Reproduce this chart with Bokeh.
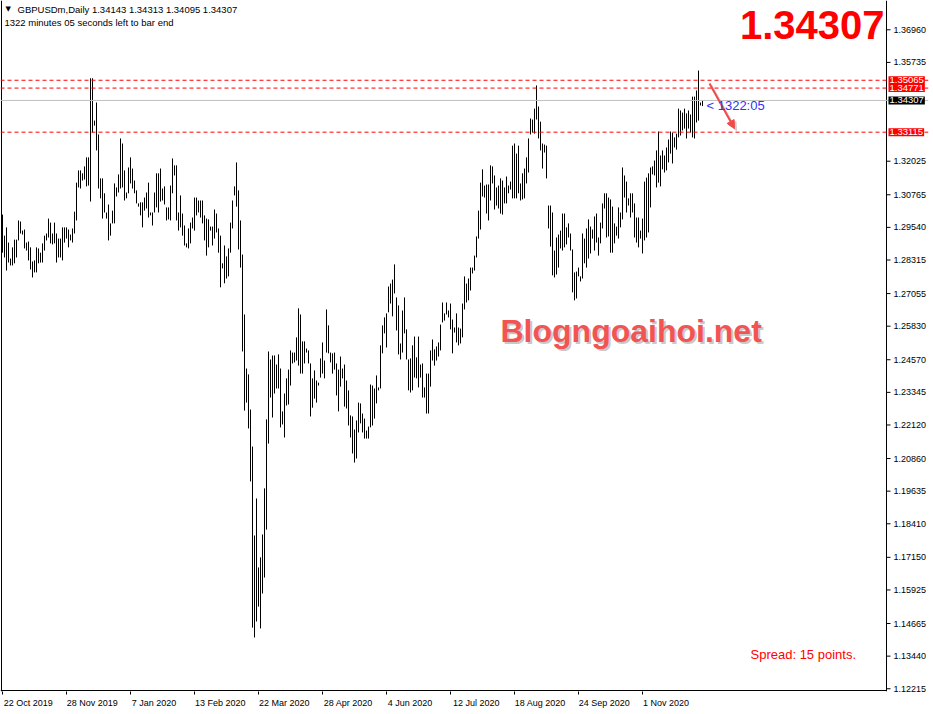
from bokeh.plotting import figure
from bokeh.models import (FixedTicker, Span, Label, Arrow, NormalHead, ColumnDataSource,
                          Range1d, NumeralTickFormatter, LinearAxis)
from bokeh.embed import file_html
from bokeh.resources import INLINE

# ---------------- data ----------------
highs = [
 1.3002,1.2923,1.2954,1.2897,1.2837,1.2879,1.2908,1.2908,1.2980,1.2976,
 1.2942,1.2946,1.2897,1.2901,1.2879,1.2826,1.2830,1.2879,1.2875,1.2859,
 1.2894,1.2923,1.2931,1.2987,1.2972,1.2931,1.2972,1.2931,1.2912,1.2912,
 1.2954,1.2954,1.2954,1.2946,1.2927,1.2950,1.3013,1.3122,1.3168,1.3168,
 1.3157,1.3183,1.3217,1.3217,1.3514,1.3514,1.3355,1.3423,1.3303,1.3138,
 1.3138,1.3082,1.3010,1.3040,1.2969,1.3017,1.3119,1.3104,1.3153,1.3288,
 1.3269,1.3168,1.3085,1.3179,1.3217,1.3175,1.3130,1.3093,1.3044,1.3048,
 1.3048,1.3066,1.3085,1.3122,1.3010,1.3010,1.3085,1.3157,1.3157,1.3175,
 1.3100,1.3108,1.3029,1.3029,1.3111,1.3213,1.3187,1.3187,1.3010,1.3074,
 1.3006,1.2961,1.2894,1.2950,1.2972,1.2991,1.3066,1.3066,1.3055,1.3055,
 1.3055,1.2999,1.2987,1.2984,1.2957,1.2957,1.3021,1.3006,1.2950,1.2923,
 1.2819,1.2886,1.2845,1.2875,1.2972,1.3055,1.3108,1.3198,1.3093,1.2980,
 1.2852,1.2627,1.2424,1.2402,1.2270,1.2131,1.1797,1.1936,1.1677,1.1715,
 1.1801,1.1974,1.2233,1.2488,1.2458,1.2473,1.2473,1.2439,1.2477,1.2424,
 1.2263,1.2330,1.2387,1.2420,1.2492,1.2484,1.2484,1.2541,1.2650,1.2627,
 1.2526,1.2526,1.2499,1.2492,1.2443,1.2387,1.2417,1.2379,1.2371,1.2462,
 1.2522,1.2454,1.2646,1.2586,1.2484,1.2481,1.2484,1.2443,1.2420,1.2469,
 1.2424,1.2439,1.2379,1.2342,1.2248,1.2244,1.2195,1.2229,1.2296,1.2293,
 1.2255,1.2236,1.2191,1.2206,1.2364,1.2360,1.2349,1.2398,1.2353,1.2511,
 1.2586,1.2616,1.2631,1.2732,1.2743,1.2758,1.2815,1.2691,1.2661,1.2518,
 1.2642,1.2691,1.2571,1.2458,1.2462,1.2511,1.2544,1.2466,1.2544,1.2439,
 1.2443,1.2353,1.2405,1.2405,1.2492,1.2533,1.2496,1.2507,1.2522,1.2589,
 1.2672,1.2631,1.2672,1.2642,1.2668,1.2608,1.2578,1.2631,1.2578,1.2574,
 1.2668,1.2770,1.2743,1.2762,1.2803,1.2803,1.2848,1.2920,1.3017,1.3122,
 1.3172,1.3111,1.3115,1.3115,1.3187,1.3183,1.3149,1.3104,1.3111,1.3138,
 1.3130,1.3104,1.3145,1.3111,1.3126,1.3261,1.3269,1.3231,1.3261,1.3119,
 1.3157,1.3175,1.3217,1.3288,1.3363,1.3359,1.3400,1.3487,1.3408,1.3351,
 1.3269,1.3265,1.3261,1.3036,1.3036,1.3010,1.2867,1.2916,1.2927,1.2942,
 1.3006,1.3006,1.2954,1.2969,1.2931,1.2871,1.2785,1.2788,1.2803,1.2770,
 1.2931,1.2912,1.2950,1.2984,1.2957,1.2946,1.2995,1.3006,1.2916,1.2972,
 1.3044,1.3082,1.3082,1.3066,1.3059,1.3032,1.2969,1.2957,1.3029,1.3010,
 1.3179,1.3149,1.3126,1.3063,1.3082,1.3082,1.3044,1.2991,1.2991,1.2942,
 1.2987,1.3126,1.3141,1.3157,1.3179,1.3183,1.3205,1.3243,1.3314,1.3224,
 1.3243,1.3224,1.3254,1.3284,1.3314,1.3310,1.3292,1.3306,1.3400,1.3393,
 1.3385,1.3400,1.3382,1.3393,1.3378,1.3445,1.3445,1.3468,1.3543,1.3423,
 1.34313,
]
lows = [
 1.2859,1.2841,1.2792,1.2822,1.2811,1.2811,1.2819,1.2841,1.2905,1.2931,
 1.2927,1.2875,1.2867,1.2830,1.2796,1.2766,1.2785,1.2785,1.2819,1.2822,
 1.2822,1.2867,1.2905,1.2916,1.2894,1.2890,1.2894,1.2822,1.2841,1.2841,
 1.2830,1.2897,1.2912,1.2879,1.2905,1.2897,1.2931,1.2980,1.3104,1.3100,
 1.3130,1.3134,1.3108,1.3111,1.3051,1.3310,1.3336,1.3243,1.3100,1.3063,
 1.2987,1.3010,1.2987,1.2905,1.2923,1.2969,1.2969,1.3070,1.3085,1.3100,
 1.3104,1.3055,1.3063,1.3082,1.3119,1.3100,1.3082,1.3044,1.3032,1.2999,
 1.2954,1.3017,1.3025,1.2991,1.2999,1.2961,1.3010,1.3029,1.3010,1.3051,
 1.3055,1.3040,1.2980,1.2984,1.2980,1.3082,1.3149,1.2980,1.2942,1.2954,
 1.2923,1.2886,1.2879,1.2875,1.2894,1.2950,1.2942,1.2999,1.3010,1.2991,
 1.2969,1.2905,1.2848,1.2879,1.2942,1.2886,1.2912,1.2935,1.2859,1.2729,
 1.2800,1.2744,1.2762,1.2770,1.2859,1.2950,1.3074,1.3032,1.2871,1.2803,
 1.2488,1.2266,1.2296,1.2199,1.2000,1.1451,1.1414,1.1474,1.1530,1.1448,
 1.1579,1.1639,1.1819,1.2142,1.2315,1.2240,1.2330,1.2349,1.2349,1.2203,
 1.2214,1.2165,1.2285,1.2289,1.2360,1.2443,1.2447,1.2454,1.2435,1.2405,
 1.2405,1.2443,1.2484,1.2443,1.2244,1.2277,1.2311,1.2296,1.2360,1.2390,
 1.2405,1.2387,1.2484,1.2481,1.2447,1.2405,1.2420,1.2323,1.2263,1.2356,
 1.2387,1.2281,1.2274,1.2210,1.2165,1.2105,1.2071,1.2086,1.2184,1.2218,
 1.2184,1.2161,1.2161,1.2161,1.2203,1.2210,1.2236,1.2293,1.2342,1.2349,
 1.2481,1.2556,1.2503,1.2635,1.2668,1.2620,1.2706,1.2567,1.2477,1.2458,
 1.2484,1.2556,1.2458,1.2342,1.2334,1.2342,1.2390,1.2387,1.2353,1.2390,
 1.2315,1.2315,1.2255,1.2255,1.2356,1.2454,1.2435,1.2454,1.2469,1.2492,
 1.2597,1.2604,1.2627,1.2616,1.2571,1.2481,1.2559,1.2522,1.2511,1.2518,
 1.2541,1.2646,1.2672,1.2680,1.2717,1.2781,1.2792,1.2841,1.2912,1.2946,
 1.3070,1.3066,1.3006,1.2980,1.3055,1.3119,1.3021,1.3036,1.3025,1.3006,
 1.3002,1.3044,1.3044,1.3082,1.3096,1.3063,1.3063,1.3063,1.3082,1.3055,
 1.3059,1.3063,1.3119,1.3160,1.3303,1.3310,1.3306,1.3359,1.3288,1.3243,
 1.3175,1.3235,1.3138,1.2950,1.2882,1.2774,1.2766,1.2777,1.2803,1.2875,
 1.2867,1.2879,1.2890,1.2916,1.2867,1.2710,1.2680,1.2687,1.2770,1.2751,
 1.2762,1.2819,1.2803,1.2837,1.2856,1.2912,1.2867,1.2897,1.2848,1.2894,
 1.2950,1.3025,1.2916,1.2920,1.2859,1.2859,1.2894,1.2923,1.2912,1.2954,
 1.2984,1.3066,1.3010,1.3036,1.2991,1.3010,1.2916,1.2897,1.2879,1.2912,
 1.2856,1.2905,1.2916,1.2935,1.3029,1.3153,1.3149,1.3104,1.3122,1.3108,
 1.3172,1.3160,1.3168,1.3198,1.3231,1.3194,1.3254,1.3246,1.3292,1.3299,
 1.3318,1.3325,1.3288,1.3325,1.3310,1.3292,1.3288,1.3348,1.3355,1.3412,
 1.34095,
]
tick_index = [0, 32, 64, 96, 128, 160, 192, 224, 256, 288, 320]
tick_labels = ["22 Oct 2019", "28 Nov 2019", "7 Jan 2020", "13 Feb 2020", "22 Mar 2020",
               "28 Apr 2020", "4 Jun 2020", "12 Jul 2020", "18 Aug 2020", "24 Sep 2020",
               "1 Nov 2020"]
price_ticks = [1.36960, 1.35735, 1.32025, 1.30765, 1.29540, 1.28315, 1.27055, 1.25830,
               1.24570, 1.23345, 1.22120, 1.20860, 1.19635, 1.18410, 1.17150, 1.15925,
               1.14665, 1.13440, 1.12215]
red_levels = [1.35065, 1.34771, 1.33115]
bid = 1.34307
cur_open, cur_high, cur_low, cur_close = 1.34143, 1.34313, 1.34095, 1.34307
symbol = "GBPUSDm,Daily"
timer_text = "1322 minutes 05 seconds left to bar end"
timer_short = "< 1322:05"
spread_text = "Spread: 15 points."
watermark = "Blogngoaihoi.net"

# ---------------- figure geometry ----------------
W, H = 933, 714
FRAME_W, FRAME_H = 928, 691
PX_PER_BAR = 2.0
PX_PER_PRICE = 2663.0
X0 = -1.0
X1 = X0 + FRAME_W / PX_PER_BAR
Y1 = 1.3806
Y0 = Y1 - FRAME_H / PX_PER_PRICE

def px_x(a):
    return X0 + a / PX_PER_BAR

def px_y(a):
    return Y1 - a / PX_PER_PRICE

p = figure(width=W, height=H, x_range=Range1d(X0, X1), y_range=Range1d(Y0, Y1),
           output_backend="svg", toolbar_location=None, y_axis_location="right",
           min_border_left=0, min_border_top=0, min_border_right=W - FRAME_W,
           min_border_bottom=H - FRAME_H, outline_line_color=None,
           background_fill_color="white", border_fill_color="white")
p.grid.visible = False

FONT = "Liberation Sans"

# bottom axis 1: tick marks only
xa = p.xaxis[0]
xa.ticker = FixedTicker(ticks=tick_index)
xa.major_label_overrides = {i: "" for i in tick_index}
xa.major_label_text_font_size = "0px"
xa.major_label_standoff = 0
xa.major_tick_out = 3
xa.major_tick_in = 0
xa.minor_tick_out = 0
xa.minor_tick_in = 0
xa.axis_line_color = None
xa.major_tick_line_color = "black"

# bottom axis 2: labels starting at the tick (MT4 style)
label_pos = [round(t + (1 + len(s) * 4.5 / 2) / PX_PER_BAR, 3) for t, s in zip(tick_index, tick_labels)]
xl = LinearAxis(ticker=FixedTicker(ticks=label_pos),
                major_label_overrides={pos: s for pos, s in zip(label_pos, tick_labels)},
                major_tick_out=0, major_tick_in=0, minor_tick_out=0, minor_tick_in=0,
                axis_line_color=None, major_label_standoff=3,
                major_label_text_font=FONT, major_label_text_font_size="9px",
                major_label_text_color="black")
p.add_layout(xl, "below")

# price axis on the right
ya = p.yaxis[0]
ya.ticker = FixedTicker(ticks=price_ticks)
ya.formatter = NumeralTickFormatter(format="0.00000")
ya.major_tick_out = 0
ya.major_tick_in = 0
ya.minor_tick_out = 0
ya.minor_tick_in = 0
ya.major_label_standoff = -35
ya.major_label_text_font = FONT
ya.major_label_text_font_size = "9px"
ya.major_label_text_color = "black"
ya.axis_line_color = None

# chart window borders, axis line and tick marks of the price scale
p.add_layout(Span(location=px_x(1), dimension="height", line_color="black", line_width=1))
p.add_layout(Span(location=px_x(886), dimension="height", line_color="black", line_width=1))
p.segment(x0=[px_x(0)], y0=[px_y(690)], x1=[px_x(886)], y1=[px_y(690)],
          line_color="black", line_width=1)
p.segment(x0=px_x(886), y0=price_ticks, x1=px_x(890), y1=price_ticks,
          line_color="black", line_width=1)

# level lines
for lv in red_levels:
    p.add_layout(Span(location=lv, dimension="width", line_color="#ff0000",
                      line_dash="4 3", line_width=1))
p.add_layout(Span(location=bid, dimension="width", line_color="#c0c0c0", line_width=1))

# bars (high-low)
src = ColumnDataSource(dict(x=list(range(len(highs))), high=highs, low=lows))
p.segment(x0="x", y0="low", x1="x", y1="high", source=src, line_color="black", line_width=1)

# header
p.add_layout(Label(x=px_x(5), y=px_y(8), text="\u25BC", text_font="DejaVu Sans",
                   text_font_size="7px", text_color="black", text_baseline="middle"))
p.add_layout(Label(x=px_x(17), y=px_y(9),
                   text=f"{symbol}  {cur_open:.5f} {cur_high:.5f} {cur_low:.5f} {cur_close:.5f}",
                   text_font=FONT, text_font_size="9.5px", text_color="black",
                   text_baseline="middle"))
p.add_layout(Label(x=px_x(4), y=px_y(22), text=timer_text, text_font=FONT,
                   text_font_size="9.5px", text_color="black", text_baseline="middle"))

# big price
p.add_layout(Label(x=px_x(884), y=px_y(24), text=f"{cur_close:.5f}", text_font=FONT,
                   text_font_size="40px", text_font_style="bold", text_color="#ff0000",
                   text_align="right", text_baseline="middle"))

# watermark with shadow
p.add_layout(Label(x=px_x(502), y=px_y(332), text=watermark, text_font=FONT,
                   text_font_size="32px", text_font_style="bold", text_color="#9a9a9a",
                   text_alpha=0.55, text_baseline="middle"))
p.add_layout(Label(x=px_x(500), y=px_y(330), text=watermark, text_font=FONT,
                   text_font_size="32px", text_font_style="bold", text_color="#f25454",
                   text_baseline="middle"))

# arrow with shadow
p.add_layout(Arrow(end=NormalHead(size=8, fill_color="#b0b0b0", line_color="#b0b0b0",
                                  fill_alpha=0.5, line_alpha=0.5),
                   x_start=px_x(711), y_start=px_y(85), x_end=px_x(736), y_end=px_y(130),
                   line_color="#b0b0b0", line_alpha=0.5, line_width=2))
p.add_layout(Arrow(end=NormalHead(size=8, fill_color="#f04a4a", line_color="#f04a4a"),
                   x_start=px_x(709), y_start=px_y(83), x_end=px_x(734), y_end=px_y(128),
                   line_color="#f04a4a", line_width=2))

# timer near last bar
p.add_layout(Label(x=px_x(706), y=px_y(105), text=timer_short, text_font=FONT,
                   text_font_size="13px", text_color="#3030ff", text_baseline="middle"))

# spread
p.add_layout(Label(x=px_x(750), y=px_y(654), text=spread_text, text_font=FONT,
                   text_font_size="13px", text_color="#ff0000", text_baseline="middle"))

# price boxes on the price scale
for lv, bg in [(red_levels[1], "#ff0000"), (red_levels[0], "#ff0000"),
               (bid, "black"), (red_levels[2], "#ff0000")]:
    p.add_layout(Label(x=px_x(888), y=lv, text=f"{lv:.5f}", text_font=FONT,
                       text_font_size="9.5px", text_color="white", text_baseline="middle",
                       background_fill_color=bg, padding=1))

open("out.html", "w").write(file_html(p, INLINE))
